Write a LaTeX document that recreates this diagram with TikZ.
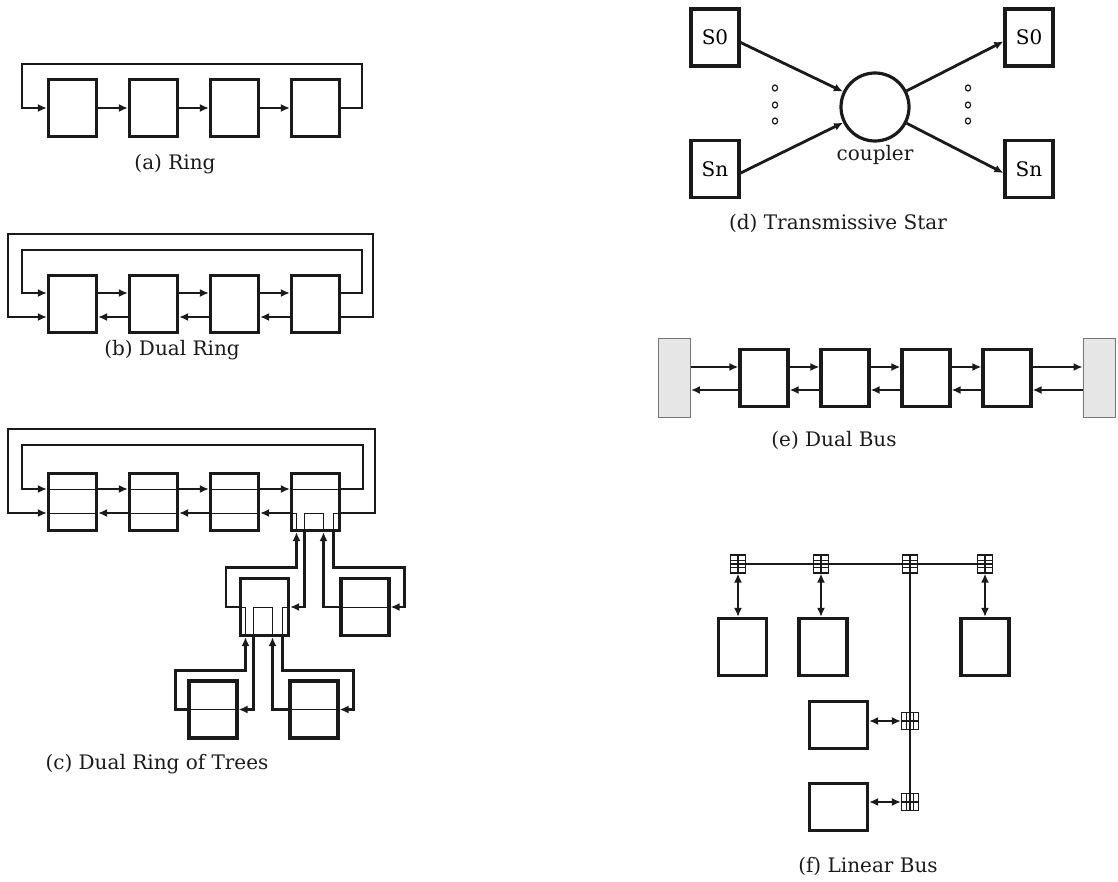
\documentclass[tikz,border=0pt]{standalone}
\usepackage{fontspec}
\setmainfont{DejaVu Serif}
\usepackage{tikz}
\definecolor{tpInk}{HTML}{1A1A1A}
\definecolor{tpGray}{HTML}{E6E6E6}
\usetikzlibrary{arrows.meta,calc}

\begin{document}
\begin{tikzpicture}[x=1pt, y=-1pt, >=Latex,
    stn/.style={draw=tpInk, line width=3.2pt, minimum width=48pt, minimum height=57pt, inner sep=0pt, font=\fontsize{20}{24}\selectfont},
    wide/.style={stn, minimum width=58pt, minimum height=47pt},
    term/.style={draw=tpInk!60, fill=tpGray, line width=0.8pt, minimum width=32pt, minimum height=79pt, inner sep=0pt},
    arr/.style={draw=tpInk, line width=2.8pt, -{Latex[length=9pt,width=8pt]}},
    dbl/.style={draw=tpInk, line width=2.8pt, {Latex[length=9pt,width=8pt]}-{Latex[length=9pt,width=8pt]}},
    wire/.style={draw=tpInk, line width=2.8pt},
    trace/.style={draw=tpInk, line width=0.9pt},
    subcap/.style={font=\fontsize{20}{24}\selectfont, text=tpInk, inner sep=0pt},
    tap/.style={draw=tpInk, fill=white, line width=1.1pt, minimum width=15pt, minimum height=18pt, inner sep=0pt,
      path picture={\draw[line width=1.1pt] (path picture bounding box.north) -- (path picture bounding box.south)
        ([yshift=3.5pt]path picture bounding box.west) -- ([yshift=3.5pt]path picture bounding box.east)
        ([yshift=-3.5pt]path picture bounding box.west) -- ([yshift=-3.5pt]path picture bounding box.east);}},
    vtap/.style={tap, minimum width=17pt, minimum height=17pt,
      path picture={\draw[line width=1.1pt] (path picture bounding box.west) -- (path picture bounding box.east)
        ([xshift=3.5pt]path picture bounding box.north) -- ([xshift=3.5pt]path picture bounding box.south)
        ([xshift=-3.5pt]path picture bounding box.north) -- ([xshift=-3.5pt]path picture bounding box.south);}}]
  \useasboundingbox (0,0) rectangle (1118,882);

  % (a) ring
  \foreach \i/\x in {1/72.5,2/153.5,3/234.5,4/315.5}
    \node[stn] (a\i) at (\x,108) {};
  \foreach \i/\j in {1/2,2/3,3/4}
    \draw[arr] (a\i) -- (a\j);
  \coordinate (aR) at (362,64);
  \coordinate (aL) at (22,64);
  \draw[arr] (a4.east) -| (aR) -- (aL) |- (a1.west);
  \node[subcap] (capA) at (175,164) {(a) Ring};

  % (b) dual ring
  \foreach \i/\x in {1/72.5,2/153.5,3/234.5,4/315.5}
    \node[stn] (b\i) at (\x,304) {};
  \foreach \i/\j in {1/2,2/3,3/4} {
    \draw[arr] ([yshift=11pt]b\i.east) -- ([yshift=11pt]b\j.west);
    \draw[arr] ([yshift=-13pt]b\j.west) -- ([yshift=-13pt]b\i.east);
  }
  \coordinate (bIR) at (362,250);
  \coordinate (bIL) at (22,250);
  \coordinate (bOR) at (373,234);
  \coordinate (bOL) at (8,234);
  \draw[arr] ([yshift=11pt]b4.east) -| (bIR) -- (bIL) |- ([yshift=11pt]b1.west);
  \draw[arr] ([yshift=-13pt]b4.east) -| (bOR) -- (bOL) |- ([yshift=-13pt]b1.west);
  \node[subcap] (capB) at (172,350) {(b) Dual Ring};

  % (c) dual ring of trees
  \foreach \i/\x in {1/72.5,2/153.5,3/234.5,4/315.5}
    \node[stn] (c\i) at (\x,502) {};
  \foreach \i in {1,2,3} {
    \draw[trace] ([yshift=13pt]c\i.west) -- ([yshift=13pt]c\i.east);
    \draw[trace] ([yshift=-11pt]c\i.west) -- ([yshift=-11pt]c\i.east);
  }
  \draw[trace] ([yshift=13pt]c4.west) -- ([yshift=13pt]c4.east);
  \draw[trace] ([yshift=-11pt]c4.west) -| ([xshift=-19pt]c4.south);
  \draw[trace] ([xshift=-11pt]c4.south) |- ([xshift=8pt,yshift=-11pt]c4.center) -- ([xshift=8pt]c4.south);
  \draw[trace] ([xshift=18pt]c4.south) |- ([yshift=-11pt]c4.east);
  \foreach \i/\j in {1/2,2/3,3/4} {
    \draw[arr] ([yshift=13pt]c\i.east) -- ([yshift=13pt]c\j.west);
    \draw[arr] ([yshift=-11pt]c\j.west) -- ([yshift=-11pt]c\i.east);
  }
  \coordinate (cIR) at (363,445);
  \coordinate (cIL) at (22,445);
  \coordinate (cOR) at (375,429);
  \coordinate (cOL) at (8,429);
  \draw[arr] ([yshift=13pt]c4.east) -| (cIR) -- (cIL) |- ([yshift=13pt]c1.west);
  \draw[arr] ([yshift=-11pt]c4.east) -| (cOR) -- (cOL) |- ([yshift=-11pt]c1.west);

  \node[stn] (t1) at (264.5,607) {};
  \node[stn] (t2) at (365,607) {};
  \node[stn] (l1) at (213,709.5) {};
  \node[stn] (l2) at (314,709.5) {};
  \draw[trace] (t1.west) -| ([xshift=-19pt]t1.south);
  \draw[trace] ([xshift=-11pt]t1.south) |- ([xshift=8pt]t1.center) -- ([xshift=8pt]t1.south);
  \draw[trace] ([xshift=18pt]t1.south) |- (t1.east);
  \draw[trace] (t2.west) -- (t2.east);
  \draw[trace] (l1.west) -- (l1.east);
  \draw[trace] (l2.west) -- (l2.east);

  \draw[arr] (t1.west) -- ++(-13,0) |- ([xshift=-19pt,yshift=-35pt]c4.south) -- ([xshift=-19pt]c4.south);
  \draw[arr] ([xshift=-11pt]c4.south) |- (t1.east);
  \draw[arr] (t2.west) -| ([xshift=8pt]c4.south);
  \draw[arr] ([xshift=18pt]c4.south) -- ++(0,35) -| ([xshift=14pt]t2.east) -- (t2.east);
  \draw[arr] (l1.west) -- ++(-12,0) |- ([xshift=-19pt,yshift=-33pt]t1.south) -- ([xshift=-19pt]t1.south);
  \draw[arr] ([xshift=-11pt]t1.south) |- (l1.east);
  \draw[arr] (l2.west) -| ([xshift=8pt]t1.south);
  \draw[arr] ([xshift=18pt]t1.south) -- ++(0,33) -| ([xshift=14pt]l2.east) -- (l2.east);
  \node[subcap] (capC) at (157,764) {(c) Dual Ring of Trees};

  % (d) transmissive star
  \node[stn] (s0L) at (715,37.5) {S0};
  \node[stn] (snL) at (715,169) {Sn};
  \node[stn] (s0R) at (1029,37.5) {S0};
  \node[stn] (snR) at (1029,169) {Sn};
  \node[circle, draw=tpInk, line width=3.2pt, minimum size=68pt, inner sep=0pt] (cpl) at (875,107) {};
  \node[subcap] (cplTxt) at (875,155) {coupler};
  \draw[arr] ([yshift=-5pt]s0L.east) -- (cpl);
  \draw[arr] ([yshift=-4pt]snL.east) -- (cpl);
  \draw[arr] (cpl) -- ([yshift=-4pt]s0R.west);
  \draw[arr] (cpl) -- ([yshift=-4pt]snR.west);
  \foreach \yy in {88,105,121} {
    \draw[tpInk, line width=1.2pt] (775,\yy) ellipse (2.6 and 3);
    \draw[tpInk, line width=1.2pt] (968,\yy) ellipse (2.6 and 3);
  }
  \node[subcap] (capD) at (838,223) {(d) Transmissive Star};

  % (e) dual bus
  \node[term] (eL) at (674.5,378) {};
  \node[term] (eR) at (1099,378) {};
  \foreach \i/\x in {1/764,2/845,3/926,4/1007}
    \node[stn] (e\i) at (\x,378) {};
  \foreach \p/\q in {eL/e1,e1/e2,e2/e3,e3/e4,e4/eR} {
    \draw[arr] ([yshift=11pt]\p.east) -- ([yshift=11pt]\q.west);
    \draw[arr] ([yshift=-12pt]\q.west) -- ([yshift=-12pt]\p.east);
  }
  \node[subcap] (capE) at (834,440) {(e) Dual Bus};

  % (f) linear bus
  \node[tap] (p1) at (738,564) {};
  \node[tap] (p2) at (821,564) {};
  \node[tap] (p3) at (910,564) {};
  \node[tap] (p4) at (985,564) {};
  \node[vtap] (p5) at (910,721) {};
  \node[vtap] (p6) at (910,802) {};
  \draw[wire] (p1.west) -- (p4.east);
  \draw[wire] (p3.center) -- (p6.south);
  \node[stn] (f1) at (742.5,647) {};
  \node[stn] (f2) at (823,647) {};
  \node[stn] (f3) at (985,647) {};
  \node[wide] (f4) at (838.5,725) {};
  \node[wide] (f5) at (838.5,807) {};
  \draw[dbl] (p1.south) -- (p1.south |- f1.north);
  \draw[dbl] (p2.south) -- (p2.south |- f2.north);
  \draw[dbl] (p4.south) -- (p4.south |- f3.north);
  \draw[dbl] (f4.east |- p5.west) -- (p5.west);
  \draw[dbl] (f5.east |- p6.west) -- (p6.west);
  \node[subcap] (capF) at (868,866) {(f) Linear Bus};
\end{tikzpicture}
\end{document}
